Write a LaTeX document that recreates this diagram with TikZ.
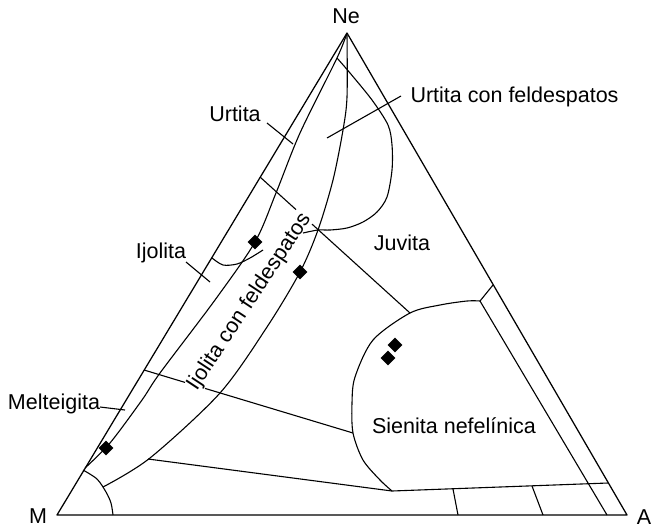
\documentclass[tikz,border=0pt]{standalone}
\usepackage{fontspec}
\setmainfont{Liberation Sans}
\usetikzlibrary{shapes.geometric}
\begin{document}
\begin{tikzpicture}[x=1pt,y=-1pt,line width=1.1pt,line join=round,
  lbl/.style={font=\fontsize{21.5}{25}\selectfont,inner sep=0pt},
  diam/.style={diamond,fill=black,draw=none,inner sep=0pt,minimum size=15pt},
  frame/.style={line width=1.25pt}]
\useasboundingbox (0,0) rectangle (652,530);
% vertices
\coordinate (M) at (57,515);
\coordinate (A) at (627,515);
\coordinate (Ne) at (347,33);
\draw[frame] (M) -- (A) -- (Ne) -- cycle;
% second line (Urtita / Ijolita inner boundary)
\draw plot[smooth,tension=0.5] coordinates {(347,33) (337,58) (300,133) (276,193) (255,242) (215,300) (160,373) (142,400) (110,443) (85,468)};
% third curve (Ijolita con feldespatos outer boundary)
\draw plot[smooth,tension=0.5] coordinates {(347,35) (347,97) (343,130) (333,180) (318,230) (300,272) (267,327) (220,393) (150,458) (103,487)};
% Urtita con feldespatos boundary
\draw plot[smooth,tension=0.5] coordinates {(337,58) (350,73) (372,100) (388,125) (392,145) (392,170) (387,197) (377,212) (363,222) (347,228) (330,230) (318,230) (303,233)};
% Sienita boundary
\coordinate (s1) at (480,301);
\coordinate (s2) at (392,491);
\coordinate (s3) at (608,483);
\draw plot[smooth,tension=0.5] coordinates {(480,301) (467,301) (440,305) (410,313) (373,340) (355,377) (352,403) (353,433) (363,460) (380,480) (392,491)} -- (s3);
% inner right line and junction
\coordinate (r1) at (607,515);
\coordinate (r2) at (493,285);
\draw (r2) -- (s1) -- (r1);
% bottom lines
\coordinate (b0) at (148,459);
\draw (b0) -- (s2);
\coordinate (b1) at (453,489);
\coordinate (b1e) at (458,515);
\coordinate (b2) at (532,486);
\coordinate (b2e) at (543,515);
\draw (b1) -- (b1e);
\draw (b2) -- (b2e);
% arc near M
\draw plot[smooth,tension=0.5] coordinates {(83,470) (97,479) (106,492) (111,503) (113,515)};
% straight boundaries (interrupted by the rotated label)
\coordinate (l1a) at (144,370);
\coordinate (l1b) at (185,382.4);
\coordinate (l1c) at (205,388.4);
\coordinate (l1d) at (353,433);
\draw (l1a) -- (l1b);
\draw (l1c) -- (l1d);
\coordinate (l2a) at (260,177);
\coordinate (l2b) at (296,209.6);
\coordinate (l2c) at (312,224.1);
\coordinate (l2d) at (410,313);
\draw (l2a) -- (l2b);
\draw (l2c) -- (l2d);
% small Ijolita curve
\draw plot[smooth,tension=0.5] coordinates {(212,258) (223,265) (237,264) (250,258) (263,250)};
% labels
\node[lbl] (lNe) at (346,16) {Ne};
\node[lbl] (lM) at (38,516) {M};
\node[lbl] (lA) at (644,517) {A};
\node[lbl] (lUrt) at (235,114) {Urtita};
\node[lbl,anchor=west] (lUcf) at (410,97) {Urtita con feldespatos};
\node[lbl] (lJuv) at (402,243) {Juvita};
\node[lbl] (lIjo) at (161,253) {Ijolita};
\node[lbl] (lMel) at (54,404) {Melteigita};
\node[lbl] (lSie) at (454,426) {Sienita nefelínica};
\node[lbl,rotate=56.5,anchor=base] (lIcf) at (254,305) {Ijolita con feldespatos};
% leaders
\coordinate (u1) at (267,123); \coordinate (u2) at (293,144);
\draw (u1) -- (u2);
\coordinate (uc1) at (327,138); \coordinate (uc2) at (401,96);
\draw (uc1) -- (uc2);
\coordinate (ij1) at (186,262); \coordinate (ij2) at (210,282);
\draw (ij1) -- (ij2);
\coordinate (me1) at (100,407); \coordinate (me2) at (125,410);
\draw (me1) -- (me2);
% data points
\node[diam] (d1) at (255,242) {};
\node[diam] (d2) at (300,272) {};
\node[diam] (d3) at (106,448) {};
\node[diam] (d4) at (395,345) {};
\node[diam] (d5) at (388,358) {};
\end{tikzpicture}
\end{document}
